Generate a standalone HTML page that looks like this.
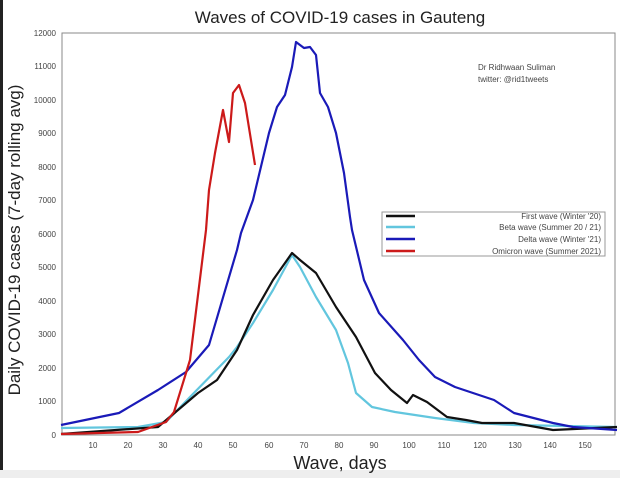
<!DOCTYPE html>
<html><head><meta charset="utf-8"><style>
html,body{margin:0;padding:0;background:#fff;}
svg{display:block;font-family:"Liberation Sans",sans-serif;}
</style></head><body>
<svg width="620" height="478" viewBox="0 0 620 478" xmlns="http://www.w3.org/2000/svg">
<rect width="620" height="478" fill="#fff"/>
<rect x="0" y="470" width="620" height="8" fill="#eeeeee"/>
<rect x="0" y="0" width="3" height="470" fill="#222"/>
<text x="340" y="23" font-size="17" text-anchor="middle" fill="#222">Waves of COVID-19 cases in Gauteng</text>
<rect x="62" y="33" width="553" height="402" fill="none" stroke="#888" stroke-width="1"/>
<g font-size="8" fill="#444" text-anchor="end">
<text x="56" y="438">0</text><text x="56" y="404">1000</text><text x="56" y="371">2000</text><text x="56" y="337">3000</text><text x="56" y="304">4000</text><text x="56" y="270">5000</text><text x="56" y="237">6000</text><text x="56" y="203">7000</text><text x="56" y="170">8000</text><text x="56" y="136">9000</text><text x="56" y="103">10000</text><text x="56" y="69">11000</text><text x="56" y="36">12000</text>
</g>
<g font-size="8" fill="#444" text-anchor="middle">
<text x="93" y="448">10</text><text x="128" y="448">20</text><text x="163" y="448">30</text><text x="198" y="448">40</text><text x="233" y="448">50</text><text x="269" y="448">60</text><text x="304" y="448">70</text><text x="339" y="448">80</text><text x="374" y="448">90</text><text x="409" y="448">100</text><text x="444" y="448">110</text><text x="480" y="448">120</text><text x="515" y="448">130</text><text x="550" y="448">140</text><text x="585" y="448">150</text>
</g>
<text x="340" y="469" font-size="18" text-anchor="middle" fill="#222">Wave, days</text>
<text transform="translate(20,240) rotate(-90)" font-size="17" text-anchor="middle" fill="#222">Daily COVID-19 cases (7-day rolling avg)</text>
<text x="478" y="70" font-size="8" fill="#444">Dr Ridhwaan Suliman</text>
<text x="478" y="82" font-size="8" fill="#444">twitter: @rid1tweets</text>
<g fill="none" stroke-linejoin="round" stroke-width="2.2">
<polyline stroke="#62c6de" points="61,428 138,427 166,422 190,397 229,357 237,347 253,323 273,290 292,255 300,267 316,297 336,330 348,363 356,393 372,407 395,412 435,418 474,423 514,425 617,427"/>
<polyline stroke="#111" points="61,434 158,427 178,410 198,393 217,380 237,350 253,315 273,280 285,263 292,253 300,260 316,273 336,307 356,337 375,373 391,390 407,403 413,395 427,402 447,417 466,420 482,423 514,423 553,430 617,427"/>
<polyline stroke="#1a1ab8" points="61,425 119,413 158,390 186,372 209,345 237,250 241,233 253,200 269,133 277,107 285,95 292,67 296,42 304,48 310,47 316,55 320,93 328,107 336,133 344,173 350,217 352,230 364,280 379,313 403,340 419,360 435,377 455,387 494,400 514,413 553,423 573,427 617,430"/>
<polyline stroke="#cc1a1a" points="61,434 138,432 166,422 174,412 190,360 206,230 209,190 215,153 223,110 229,142 233,93 239,85 245,103 255,165"/>
</g>
<rect x="382" y="212" width="223" height="44" fill="#fff" stroke="#999" stroke-width="1"/>
<g stroke-width="2.5">
<line x1="386" y1="216" x2="415" y2="216" stroke="#111"/>
<line x1="386" y1="227" x2="415" y2="227" stroke="#62c6de"/>
<line x1="386" y1="239" x2="415" y2="239" stroke="#1a1ab8"/>
<line x1="386" y1="251" x2="415" y2="251" stroke="#cc1a1a"/>
</g>
<g font-size="8" fill="#444" text-anchor="end">
<text x="601" y="219">First wave (Winter '20)</text>
<text x="601" y="230">Beta wave (Summer 20 / 21)</text>
<text x="601" y="242">Delta wave (Winter '21)</text>
<text x="601" y="254">Omicron wave (Summer 2021)</text>
</g>
</svg>
</body></html>
